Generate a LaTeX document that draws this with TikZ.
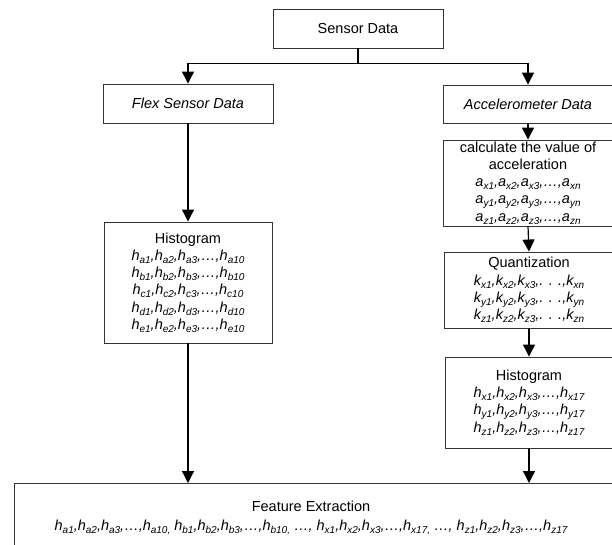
\documentclass[tikz,border=0pt]{standalone}
\usepackage{fontspec}
\setmainfont{Liberation Sans}
\usetikzlibrary{arrows.meta}
% italic variable with a lowered small index
\newcommand\ssb[1]{\raisebox{-3pt}{\fontsize{10}{10}\selectfont #1}}
\newcommand\vr[2]{#1\ssb{#2}}

\begin{document}
\begin{tikzpicture}[x=1pt,y=-1pt,
  box/.style={draw=black!80, line width=0.9pt, fill=white, inner sep=0pt,
    align=center, font=\fontsize{14.5}{17.2}\selectfont},
  txt/.style={inner sep=0pt, align=center, font=\fontsize{14.5}{19}\selectfont},
  wire/.style={line width=1.2pt},
  arr/.style={wire, -{Triangle[length=12pt,width=12pt]}}]
\useasboundingbox (0,0) rectangle (612,544);
\clip (0,0) rectangle (612,544);

% top level
\node[box, minimum width=170, minimum height=39] (sensor) at (358,28.5) {Sensor Data};
\node[box, minimum width=170, minimum height=39] (flex) at (188,103.5) {\textit{Flex Sensor Data}};
\node[box, minimum width=170, minimum height=38] (acc) at (528,104) {\textit{Accelerometer Data}};

% accelerometer branch
\node[box, minimum width=170, minimum height=86] (calc) at (528,183)
  {calculate the value of\\ acceleration\\
   \textit{\vr{a}{x1},\vr{a}{x2},\vr{a}{x3},…,\vr{a}{xn}}\\
   \textit{\vr{a}{y1},\vr{a}{y2},\vr{a}{y3},…,\vr{a}{yn}}\\
   \textit{\vr{a}{z1},\vr{a}{z2},\vr{a}{z3},…,\vr{a}{zn}}};
\node[box, minimum width=170, minimum height=76] (quant) at (529,290)
  {Quantization\\
   \textit{\vr{k}{x1},\vr{k}{x2},\vr{k}{x3},. . .,\vr{k}{xn}}\\
   \textit{\vr{k}{y1},\vr{k}{y2},\vr{k}{y3},. . .,\vr{k}{yn}}\\
   \textit{\vr{k}{z1},\vr{k}{z2},\vr{k}{z3},. . .,\vr{k}{zn}}};
\node[box, minimum width=168, minimum height=91] (rhist) at (529,402.5)
  {Histogram\\
   \textit{\vr{h}{x1},\vr{h}{x2},\vr{h}{x3},…,\vr{h}{x17}}\\
   \textit{\vr{h}{y1},\vr{h}{y2},\vr{h}{y3},…,\vr{h}{y17}}\\
   \textit{\vr{h}{z1},\vr{h}{z2},\vr{h}{z3},…,\vr{h}{z17}}};

% flex sensor branch
\node[box, minimum width=168, minimum height=121] (lhist) at (188,282.5)
  {Histogram\\
   \textit{\vr{h}{a1},\vr{h}{a2},\vr{h}{a3},…,\vr{h}{a10}}\\
   \textit{\vr{h}{b1},\vr{h}{b2},\vr{h}{b3},…,\vr{h}{b10}}\\
   \textit{\vr{h}{c1},\vr{h}{c2},\vr{h}{c3},…,\vr{h}{c10}}\\
   \textit{\vr{h}{d1},\vr{h}{d2},\vr{h}{d3},…,\vr{h}{d10}}\\
   \textit{\vr{h}{e1},\vr{h}{e2},\vr{h}{e3},…,\vr{h}{e10}}};

% feature extraction
\node[box, minimum width=601, minimum height=90, anchor=north west] (feat) at (14,483) {};
\node[txt] (feattext) at (311,518)
  {Feature Extraction\\
   \textit{\vr{h}{a1},\vr{h}{a2},\vr{h}{a3},…,\vr{h}{a10,} \vr{h}{b1},\vr{h}{b2},\vr{h}{b3},…,\vr{h}{b10,} …, \vr{h}{x1},\vr{h}{x2},\vr{h}{x3},…,\vr{h}{x17,} …, \vr{h}{z1},\vr{h}{z2},\vr{h}{z3},…,\vr{h}{z17}}};

% connectors
\draw[wire] (sensor.south) -- ++(0,15) coordinate (split);
\draw[arr] (split) -| (flex.north);
\draw[arr] (split) -| (acc.north);
\draw[arr] (acc.south) -- (calc.north);
\draw[arr] (calc.south) -- (quant.north);
\draw[arr] (quant.south) -- (rhist.north);
\draw[arr] (rhist.south) -- (rhist.south |- feat.north);
\draw[arr] (flex.south) -- (lhist.north);
\draw[arr] (lhist.south) -- (lhist.south |- feat.north);
\end{tikzpicture}
\end{document}
